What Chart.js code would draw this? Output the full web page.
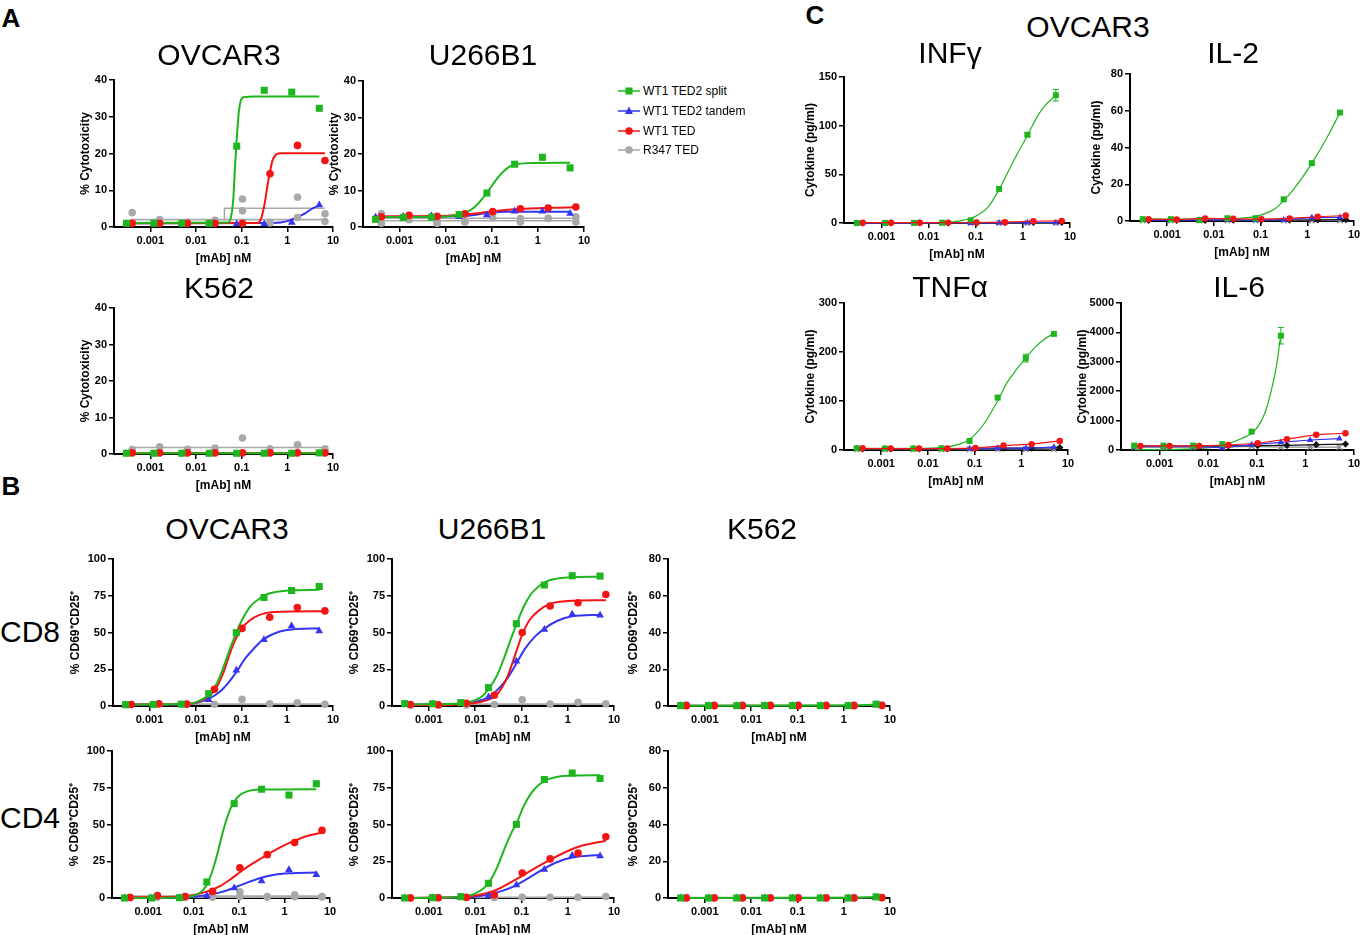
<!DOCTYPE html>
<html>
<head>
<meta charset="utf-8">
<script src="https://cdn.jsdelivr.net/npm/chart.js@4.4.1/dist/chart.umd.min.js"></script>
<style>
  body { margin: 0; background: #fff; }
  #fig { position: relative; width: 1360px; height: 935px; overflow: hidden;
         font-family: "Liberation Sans", Arial, Helvetica, sans-serif; color: #000; }
  .lbl { position: absolute; transform: translate(-50%, -50%); white-space: nowrap; line-height: 1; }
  .leg { position: absolute; left: 618px; font-size: 12px; display: flex; align-items: center; transform: translateY(-50%); }
  .leg svg { margin-right: 3px; }
</style>
</head>
<body>
<div id="fig"></div>
<script>
// concentrations (nM) of the two dilution series
const concSplit = [0.0003, 0.0012, 0.0049, 0.0195, 0.078, 0.3125, 1.25, 5];
const concTed = [0.0004, 0.0016, 0.0065, 0.026, 0.104, 0.417, 1.67, 6.67];
const xTicks = [0.001, 0.01, 0.1, 1, 10];
const seriesNames = ['WT1 TED2 split', 'WT1 TED2 tandem', 'WT1 TED', 'R347 TED'];

// ---- A: % cytotoxicity ----
const cytoOvSplit = [1, 1, 1, 1, 22, 37.2, 36.7, 32.3];
const cytoOvTandem = [0.9, 0.9, 0.9, 0.9, 0.8, 0.8, 1.2, 6];
const cytoOvTed = [1, 1, 1, 1, 1, 14.5, 22.2, 18.1];
const cytoOvR347a = [3.9, 2, 1.3, 1.8, 7.6, 1.3, 8.1, 3.6];
const cytoOvR347b = [1.2, 1.1, 1.1, 1.2, 4.4, 1.1, 2.6, 1.5];
const fitCytoOvSplit = [[0.0003, 1.1], [0.05, 1.2], [0.058, 2.5], [0.065, 7], [0.072, 17], [0.078, 24], [0.086, 31], [0.095, 34.3], [0.11, 35.3], [0.2, 35.5], [5, 35.5]];
const fitCytoOvTed = [[0.0004, 1], [0.22, 1.1], [0.27, 2.5], [0.32, 6.5], [0.37, 11.5], [0.417, 15], [0.47, 18], [0.55, 19.6], [0.7, 20.1], [6.67, 20.1]];
const fitCytoOvTandem = [[0.0003, 1], [0.5, 1.1], [1, 1.6], [1.6, 2.6], [2.5, 3.8], [3.5, 5], [5, 5.8]];
const fitCytoOvR347a = [[0.0004, 2], [0.042, 2], [0.042, 5.1], [6.67, 5.1]];
const fitCytoOvR347b = [[0.042, 2], [6.67, 2]];

const cytoUSplit = [2.1, 2.6, 2.7, 3.4, 9.3, 17.2, 19.1, 16.2];
const cytoUTandem = [2.7, 2.9, 3.0, 2.8, 3.3, 4.3, 4.3, 3.7];
const cytoUTed = [2.8, 3.2, 2.9, 3.6, 4.2, 5.0, 5.2, 5.5];
const cytoUR347a = [3.6, 2.2, 1.0, 1.5, 4.0, 2.3, 2.4, 2.8];
const cytoUR347b = [1.0, 2.0, 1.1, 1.4, 2.6, 1.4, 2.3, 1.4];
const fitCytoUSplit = [[0.0003, 2.7], [0.005, 2.8], [0.015, 3.1], [0.025, 3.7], [0.04, 5.2], [0.06, 7.5], [0.078, 9.4], [0.1, 11.3], [0.15, 14.2], [0.22, 16.2], [0.32, 17.1], [0.6, 17.5], [5, 17.6]];
const fitCytoUTandem = [[0.0003, 2.8], [0.01, 2.9], [0.03, 3.1], [0.06, 3.6], [0.1, 4.0], [0.2, 4.2], [5, 4.2]];
const fitCytoUTed = [[0.0004, 2.9], [0.005, 3.0], [0.02, 3.3], [0.06, 3.9], [0.15, 4.5], [0.5, 5.0], [2, 5.3], [6.67, 5.4]];
const fitCytoUR347a = [[0.0004, 2.4], [6.67, 2.4]];
const fitCytoUR347b = [[0.0004, 1.7], [6.67, 1.7]];

const cytoKSplit = [0.2, 0.2, 0.2, 0.2, 0.2, 0.2, 0.2, 0.3];
const cytoKTandem = [0.1, 0.1, 0.1, 0.1, 0.1, 0.1, 0.1, 0.1];
const cytoKTed = [0.3, 0.3, 0.3, 0.3, 0.3, 0.3, 0.3, 0.3];
const cytoKR347a = [1.2, 2.0, 1.3, 1.6, 4.4, 1.4, 2.5, 1.4];
const fitCytoKSplit = [[0.0003, 0.2], [5, 0.2]];
const fitCytoKTed = [[0.0004, 0.3], [6.67, 0.3]];
const fitCytoKR347 = [[0.0004, 1.8], [6.67, 1.8]];

// ---- B: % CD69+CD25+ ----
const cd8OvSplit = [0.9, 1.0, 1.2, 8.4, 49.9, 73.8, 78.6, 81.3];
const cd8OvTandem = [0.7, 0.8, 1.0, 4.3, 24.4, 45, 54.4, 51];
const cd8OvTed = [1.0, 1.5, 1.3, 11.4, 52.8, 60.4, 67, 64.7];
const cd8OvR347 = [1.0, 1.2, 1.0, 1.2, 4.5, 1.5, 2.2, 1.2];
const fitCd8OvSplit = [[0.0003, 1], [0.005, 1.3], [0.01, 2.5], [0.02, 8], [0.03, 16], [0.045, 30], [0.06, 41], [0.078, 50], [0.11, 60], [0.16, 68], [0.25, 73], [0.4, 76.5], [1, 78.5], [5, 79]];
const fitCd8OvTed = [[0.0004, 1], [0.006, 1.3], [0.012, 3], [0.026, 10.5], [0.04, 22], [0.06, 38], [0.08, 47], [0.104, 53], [0.15, 58], [0.25, 62], [0.5, 64], [6.67, 64.5]];
const fitCd8OvTandem = [[0.0003, 0.8], [0.005, 1], [0.01, 2], [0.02, 5], [0.035, 10], [0.05, 15], [0.078, 23], [0.12, 32], [0.2, 40], [0.31, 45.5], [0.6, 50], [1.25, 52], [5, 52.8]];
const fitCd8OvR347 = [[0.0004, 1.3], [6.67, 1.3]];

const cd8USplit = [1.6, 1.5, 2.3, 12.5, 56, 82.3, 88.6, 88.4];
const cd8UTandem = [1.0, 1.0, 1.5, 6.1, 30.5, 52, 62.5, 61.8];
const cd8UTed = [1.0, 0.8, 1.8, 7.3, 50, 68, 70.2, 75.9];
const cd8UR347 = [0.5, 0.5, 0.6, 1.0, 4.3, 1.3, 2.5, 1.5];
const fitCd8USplit = [[0.0003, 1.2], [0.004, 1.6], [0.008, 3], [0.014, 6.5], [0.0195, 11.5], [0.03, 21], [0.045, 35], [0.06, 46], [0.078, 55.5], [0.11, 67], [0.16, 76], [0.25, 82], [0.4, 85.5], [1, 87.5], [5, 88]];
const fitCd8UTed = [[0.0004, 0.6], [0.005, 1], [0.01, 2], [0.02, 4.5], [0.03, 8], [0.05, 20], [0.07, 33], [0.104, 48.5], [0.15, 58.5], [0.25, 65.5], [0.417, 69.5], [1, 71.5], [6.67, 72]];
const fitCd8UTandem = [[0.0003, 0.8], [0.005, 1.5], [0.01, 2.8], [0.0195, 6], [0.035, 13], [0.05, 19], [0.078, 29], [0.12, 39], [0.2, 47.5], [0.31, 52.5], [0.6, 58], [1.25, 61], [5, 62]];
const fitCd8UR347 = [[0.0004, 1.3], [6.67, 1.3]];

const cd8KSplit = [0.2, 0.2, 0.2, 0.2, 0.2, 0.2, 0.2, 1.0];
const cd8KTandem = [0.1, 0.1, 0.1, 0.1, 0.1, 0.1, 0.1, 0.5];
const cd8KTed = [0.2, 0.2, 0.2, 0.2, 0.2, 0.2, 0.2, 0.3];
const cd8KR347 = [0.5, 0.5, 0.5, 0.5, 0.5, 0.5, 0.5, 0.6];
const fitCd8KSplit = [[0.0003, 0.2], [1.25, 0.25], [5, 0.8]];
const fitCd8KR347 = [[0.0004, 0.5], [6.67, 0.5]];

const cd4OvSplit = [0, 0, 0.2, 10.9, 64.3, 74, 70, 77.7];
const cd4OvTandem = [0, 0, 0.1, 1.6, 6.8, 11.6, 19.3, 15.9];
const cd4OvTed = [0.3, 1.5, 1.0, 4.5, 20.5, 29.5, 37.7, 46];
const cd4OvR347a = [0.5, 1.8, 1.0, 0.8, 4.2, 1.0, 2.2, 1.0];
const cd4OvR347b = [0.3, 0.5, 0.4, 0.5, 1.0, 0.6, 0.8, 0.7];
const fitCd4OvSplit = [[0.0003, 0], [0.006, 0.3], [0.01, 1.5], [0.015, 4.5], [0.0195, 9], [0.025, 17], [0.032, 28], [0.04, 40], [0.05, 51], [0.065, 61], [0.078, 65.5], [0.1, 69.5], [0.15, 72.5], [0.3, 73.8], [5, 74]];
const fitCd4OvTed = [[0.0004, 0.5], [0.005, 1], [0.01, 2], [0.02, 4.5], [0.04, 8.5], [0.07, 13.5], [0.104, 17.5], [0.2, 23.5], [0.417, 29.5], [0.8, 34.5], [1.67, 39], [3, 42], [6.67, 44.5]];
const fitCd4OvTandem = [[0.0003, 0], [0.006, 0.3], [0.012, 1], [0.02, 2], [0.04, 4], [0.078, 7], [0.15, 10.5], [0.31, 13.8], [0.6, 15.8], [1.25, 16.8], [5, 17.3]];
const fitCd4OvR347a = [[0.0004, 1.3], [6.67, 1.3]];
const fitCd4OvR347b = [[0.0004, 0.6], [6.67, 0.6]];

const cd4USplit = [0, 0.2, 0.9, 10, 50.1, 80.6, 85, 81.3];
const cd4UTandem = [0, 0, 0.3, 1.6, 8.9, 19.4, 28.9, 28.5];
const cd4UTed = [0, 0.2, 0.5, 2, 17, 26.6, 30.5, 41.7];
const cd4UR347 = [0.2, 0.2, 0.2, 0.3, 0.5, 0.5, 0.5, 1.0];
const fitCd4USplit = [[0.0003, 0], [0.005, 0.6], [0.01, 3], [0.015, 6.5], [0.0195, 10], [0.03, 21], [0.045, 35], [0.06, 44], [0.078, 50.5], [0.11, 62], [0.16, 71], [0.25, 77.5], [0.4, 81], [1, 83.2], [5, 83.5]];
const fitCd4UTed = [[0.0004, 0], [0.006, 0.8], [0.012, 2], [0.026, 5], [0.05, 9.5], [0.104, 15], [0.2, 20.5], [0.417, 26], [1, 32], [2, 35.5], [6.67, 39]];
const fitCd4UTandem = [[0.0003, 0], [0.006, 0.5], [0.012, 1.2], [0.0195, 2.5], [0.04, 5], [0.078, 8.8], [0.15, 14], [0.31, 20], [0.6, 24.5], [1.25, 27.5], [5, 29.3]];
const fitCd4UR347 = [[0.0004, 0.3], [6.67, 0.6]];

const cd4KSplit = [0, 0, 0, 0, 0, 0, 0, 0.6];
const cd4KTandem = [0, 0, 0, 0, 0, 0, 0, 0.2];
const cd4KTed = [0, 0, 0, 0, 0, 0, 0, 0.2];
const cd4KR347 = [0.2, 0.2, 0.2, 0.2, 0.2, 0.2, 0.2, 0.3];
const fitCd4KSplit = [[0.0003, 0], [1.25, 0.1], [5, 0.5]];
const fitCd4KR347 = [[0.0004, 0.2], [6.67, 0.3]];

// ---- C: cytokines, OVCAR3 (pg/ml) ----
const infgSplit = [0, 0, 0, 0.3, 2.7, 35, 90.7, 131.3];
const infgSplitErr = [0, 0, 0, 0, 0, 0, 1.5, 6];
const infgTandem = [0, 0, 0, 0, 0, 0.2, 0.5, 0.5];
const infgTed = [0.3, 0.3, 0.3, 0.4, 0.5, 0.8, 1.8, 2.2];
const infgBlack = [0, 0, 0, 0, 0.1, 0.3, 0.5, 0.5];
const infgGray = [0, 0, 0, 0, 0, 0, 0, 0];
const fitInfgSplit = [[0.0003, 0.1], [0.01, 0.2], [0.025, 0.8], [0.05, 2.5], [0.1, 7], [0.18, 16], [0.31, 34], [0.5, 54], [0.8, 73], [1.25, 90], [2, 109], [3, 121], [5, 131]];

const il2Split = [1.0, 1.0, 0.5, 1.5, 1.5, 11.8, 31.5, 59];
const il2Tandem = [0.5, 0.5, 0.5, 0.6, 0.5, 0.7, 1.8, 2.0];
const il2Ted = [1.0, 0.8, 1.4, 1.2, 1.0, 1.4, 2.3, 3.0];
const il2Black = [0.3, 0.3, 0.3, 0.4, 0.4, 0.5, 0.6, 0.8];
const il2Gray = [0.3, 0.3, 0.3, 0.3, 0.3, 0.3, 0.3, 0.3];
const fitIl2Split = [[0.0003, 1], [0.02, 1.1], [0.05, 1.8], [0.1, 3.2], [0.2, 6.5], [0.31, 11], [0.5, 17], [0.8, 24], [1.25, 31.5], [2, 40], [3, 48], [5, 59]];

const tnfSplit = [3.5, 3, 3, 3.4, 18.4, 107, 187.5, 237];
const tnfSplitErr = [0, 0, 0, 0, 0, 0, 8, 0];
const tnfTandem = [3, 3, 3, 3, 3, 4, 4, 6];
const tnfTed = [3.5, 3, 3, 3, 4, 9, 12, 18.5];
const tnfBlack = [2, 2, 2, 2, 3, 4, 4, 5];
const tnfGray = [1.5, 1.5, 1.5, 1.5, 1.5, 2, 2, 2];
const fitTnfSplit = [[0.0003, 3], [0.005, 3.2], [0.0195, 5], [0.04, 10], [0.078, 22], [0.15, 50], [0.31, 100], [0.5, 138], [0.8, 165], [1.25, 188], [2, 210], [3, 225], [5, 238]];

const il6Split = [150, 150, 150, 200, 625, 3886, null, null];
const il6SplitErr = [0, 0, 0, 0, 0, 280, 0, 0];
const il6Tandem = [110, 110, 110, 80, 180, 260, 340, 390];
const il6Ted = [140, 140, 140, 170, 230, 370, 520, 570];
const il6Black = [130, 130, 130, 140, 150, 160, 180, 200];
const il6Gray = [100, 100, 100, 100, 120, 100, 100, 100];
const fitIl6Split = [[0.0003, 10], [0.005, 40], [0.0195, 160], [0.05, 400], [0.095, 700], [0.15, 1300], [0.19, 1900], [0.25, 2800], [0.31, 3900]];

// ---------- drawing ----------
const FONT = '"Liberation Sans", Arial, Helvetica, sans-serif';
Chart.defaults.font.family = FONT;
Chart.defaults.color = '#000';
const X_MIN = 0.00016, X_MAX = 10;

const STY = {
  split: { color: '#1fb51f', shape: 'rect', r: 5 },
  tandem: { color: '#3535f2', shape: 'triangle', r: 4.5 },
  ted: { color: '#f31414', shape: 'circle', r: 3.8 },
  r347: { color: '#a9a9a9', shape: 'circle', r: 3.8 },
  black: { color: '#111111', shape: 'rectRot', r: 3.6 },
  grayX: { color: '#8c8c8c', shape: 'crossRot', r: 3.8 }
};

const pts = (xs, ys) => xs.map((x, i) => ({ x, y: ys[i] })).filter(p => p.y !== null);
const crv = pairs => pairs.map(([x, y]) => ({ x, y }));

function pointSet(key, xs, ys, opt = {}) {
  const s = STY[key];
  const scale = opt.small ? 0.85 : 1;
  return {
    data: pts(xs, ys), showLine: !!opt.line, borderColor: s.color, borderWidth: 1.2,
    backgroundColor: s.color, pointStyle: s.shape, pointRadius: s.r * scale,
    pointBorderWidth: s.shape === 'crossRot' ? 1.6 : 0, pointBorderColor: s.color,
    clip: false, order: 0, errors: opt.errors
  };
}
function curveSet(key, pairs, width = 2, straight = false) {
  const s = STY[key];
  return {
    data: crv(pairs), borderColor: s.color, borderWidth: width, pointRadius: 0,
    cubicInterpolationMode: straight ? 'default' : 'monotone', tension: 0, clip: false, order: 1
  };
}

const errorBars = {
  id: 'errorBars',
  afterDatasetsDraw(chart) {
    const { ctx, scales } = chart;
    chart.data.datasets.forEach(ds => {
      if (!ds.errors) return;
      ctx.save();
      ctx.strokeStyle = ds.borderColor;
      ctx.lineWidth = 1;
      ds.data.forEach((p, j) => {
        const e = ds.errors[j];
        if (!e) return;
        const px = scales.x.getPixelForValue(p.x);
        const y1 = scales.y.getPixelForValue(p.y - e), y2 = scales.y.getPixelForValue(p.y + e);
        ctx.beginPath();
        ctx.moveTo(px, y1); ctx.lineTo(px, y2);
        ctx.moveTo(px - 3, y1); ctx.lineTo(px + 3, y1);
        ctx.moveTo(px - 3, y2); ctx.lineTo(px + 3, y2);
        ctx.stroke();
      });
      ctx.restore();
    });
  }
};

const fig = document.getElementById('fig');

function panel(box, yMax, yStep, yTitle, yW, datasets) {
  const padT = 10, padR = 14, xH = 39;
  const w = yW + box.R - box.L + padR, h = padT + box.B - box.T + xH;
  const cv = document.createElement('canvas');
  cv.width = w; cv.height = h;
  cv.style.cssText = `position:absolute;left:${box.L - yW}px;top:${box.T - padT}px;width:${w}px;height:${h}px`;
  fig.appendChild(cv);
  const axisGrid = { drawOnChartArea: false, tickLength: 5, color: '#000', lineWidth: 1.5 };
  const axisBorder = { color: '#000', width: 2 };
  const titleFont = { size: 12, weight: 'bold' };
  const tickFont = { size: 11, weight: 'bold' };
  new Chart(cv, {
    type: 'line',
    data: { datasets },
    options: {
      responsive: false, animation: false, events: [],
      layout: { padding: { top: padT, right: padR, left: 0, bottom: 0 } },
      plugins: { legend: { display: false }, tooltip: { enabled: false } },
      scales: {
        x: {
          type: 'logarithmic', min: X_MIN, max: X_MAX,
          afterBuildTicks: s => { s.ticks = xTicks.map(v => ({ value: v })); },
          afterFit: s => { s.height = xH; },
          ticks: { autoSkip: false, maxRotation: 0, padding: 2, font: tickFont, color: '#000', callback: v => String(v) },
          grid: axisGrid, border: axisBorder,
          title: { display: true, text: '[mAb] nM', font: titleFont, padding: 0, color: '#000' }
        },
        y: {
          min: 0, max: yMax,
          afterFit: s => { s.width = yW; },
          ticks: { stepSize: yStep, padding: 2, font: tickFont, color: '#000', callback: v => String(v) },
          grid: axisGrid, border: axisBorder,
          title: { display: true, text: yTitle, font: titleFont, padding: 0, color: '#000' }
        }
      }
    },
    plugins: [errorBars]
  });
}

function label(text, x, y, size, bold) {
  const d = document.createElement('div');
  d.className = 'lbl';
  d.style.left = x + 'px';
  d.style.top = y + 'px';
  d.style.fontSize = size + 'px';
  if (bold) d.style.fontWeight = 'bold';
  d.textContent = text;
  fig.appendChild(d);
}

// panel helper for the activation / cytotoxicity fits
function fitPanel(box, yMax, yStep, yTitle, yW, p) {
  const sets = [
    pointSet('split', concSplit, p.split),
    pointSet('ted', concTed, p.ted),
    pointSet('tandem', concSplit, p.tandem)
  ];
  p.r347.forEach(v => sets.push(pointSet('r347', concTed, v)));
  p.fits.forEach(([k, c, straight]) => sets.push(curveSet(k, c, k === 'r347' ? 1.6 : 2, straight)));
  panel(box, yMax, yStep, yTitle, yW, sets);
}

function cytokinePanel(box, yMax, yStep, p) {
  const sets = [
    pointSet('ted', concTed, p.ted, { line: true, small: true }),
    pointSet('split', concSplit, p.split, { small: true, errors: p.err }),
    pointSet('tandem', concSplit, p.tandem, { line: true, small: true }),
    pointSet('black', concTed, p.black, { line: true }),
    pointSet('grayX', concSplit, p.gray, { line: true }),
    curveSet('split', p.fit, 1.2)
  ];
  panel(box, yMax, yStep, 'Cytokine (pg/ml)', p.yW, sets);
}

const CYTO = '% Cytotoxicity';
const ACT = '% CD69\u207ACD25\u207A';

// A
fitPanel({ L: 114, R: 333, T: 80, B: 227 }, 40, 10, CYTO, 36, {
  split: cytoOvSplit, ted: cytoOvTed, tandem: cytoOvTandem, r347: [cytoOvR347a, cytoOvR347b],
  fits: [['split', fitCytoOvSplit], ['ted', fitCytoOvTed], ['tandem', fitCytoOvTandem],
         ['r347', fitCytoOvR347a, true], ['r347', fitCytoOvR347b, true]]
});
fitPanel({ L: 363, R: 584, T: 81, B: 227 }, 40, 10, CYTO, 36, {
  split: cytoUSplit, ted: cytoUTed, tandem: cytoUTandem, r347: [cytoUR347a, cytoUR347b],
  fits: [['split', fitCytoUSplit], ['ted', fitCytoUTed], ['tandem', fitCytoUTandem],
         ['r347', fitCytoUR347a, true], ['r347', fitCytoUR347b, true]]
});
fitPanel({ L: 114, R: 333, T: 308, B: 454 }, 40, 10, CYTO, 36, {
  split: cytoKSplit, ted: cytoKTed, tandem: cytoKTandem, r347: [cytoKR347a],
  fits: [['split', fitCytoKSplit, true], ['ted', fitCytoKTed, true], ['r347', fitCytoKR347, true]]
});

// B, CD8
fitPanel({ L: 113, R: 333, T: 559, B: 706 }, 100, 25, ACT, 45, {
  split: cd8OvSplit, ted: cd8OvTed, tandem: cd8OvTandem, r347: [cd8OvR347],
  fits: [['split', fitCd8OvSplit], ['ted', fitCd8OvTed], ['tandem', fitCd8OvTandem], ['r347', fitCd8OvR347, true]]
});
fitPanel({ L: 392, R: 614, T: 559, B: 706 }, 100, 25, ACT, 45, {
  split: cd8USplit, ted: cd8UTed, tandem: cd8UTandem, r347: [cd8UR347],
  fits: [['split', fitCd8USplit], ['ted', fitCd8UTed], ['tandem', fitCd8UTandem], ['r347', fitCd8UR347, true]]
});
fitPanel({ L: 668, R: 890, T: 559, B: 706 }, 80, 20, ACT, 42, {
  split: cd8KSplit, ted: cd8KTed, tandem: cd8KTandem, r347: [cd8KR347],
  fits: [['split', fitCd8KSplit], ['r347', fitCd8KR347, true]]
});

// B, CD4
fitPanel({ L: 112, R: 330, T: 751, B: 898 }, 100, 25, ACT, 45, {
  split: cd4OvSplit, ted: cd4OvTed, tandem: cd4OvTandem, r347: [cd4OvR347a, cd4OvR347b],
  fits: [['split', fitCd4OvSplit], ['ted', fitCd4OvTed], ['tandem', fitCd4OvTandem],
         ['r347', fitCd4OvR347a, true], ['r347', fitCd4OvR347b, true]]
});
fitPanel({ L: 392, R: 614, T: 751, B: 898 }, 100, 25, ACT, 45, {
  split: cd4USplit, ted: cd4UTed, tandem: cd4UTandem, r347: [cd4UR347],
  fits: [['split', fitCd4USplit], ['ted', fitCd4UTed], ['tandem', fitCd4UTandem], ['r347', fitCd4UR347, true]]
});
fitPanel({ L: 668, R: 890, T: 751, B: 898 }, 80, 20, ACT, 42, {
  split: cd4KSplit, ted: cd4KTed, tandem: cd4KTandem, r347: [cd4KR347],
  fits: [['split', fitCd4KSplit], ['r347', fitCd4KR347, true]]
});

// C
cytokinePanel({ L: 844, R: 1070, T: 77, B: 223 }, 150, 50, {
  split: infgSplit, err: infgSplitErr, tandem: infgTandem, ted: infgTed, black: infgBlack, gray: infgGray, fit: fitInfgSplit, yW: 41
});
cytokinePanel({ L: 1130, R: 1354, T: 74, B: 221 }, 80, 20, {
  split: il2Split, tandem: il2Tandem, ted: il2Ted, black: il2Black, gray: il2Gray, fit: fitIl2Split, yW: 41
});
cytokinePanel({ L: 844, R: 1068, T: 303, B: 450 }, 300, 100, {
  split: tnfSplit, err: tnfSplitErr, tandem: tnfTandem, ted: tnfTed, black: tnfBlack, gray: tnfGray, fit: fitTnfSplit, yW: 41
});
cytokinePanel({ L: 1121, R: 1354, T: 303, B: 450 }, 5000, 1000, {
  split: il6Split, err: il6SplitErr, tandem: il6Tandem, ted: il6Ted, black: il6Black, gray: il6Gray, fit: fitIl6Split, yW: 46
});

// text
label('A', 11, 18, 26, true);
label('B', 11, 486, 26, true);
label('C', 815, 15, 26, true);
label('OVCAR3', 219, 55, 30);
label('U266B1', 483, 55, 30);
label('K562', 219, 288, 30);
label('OVCAR3', 227, 529, 30);
label('U266B1', 492, 529, 30);
label('K562', 762, 529, 30);
label('CD8', 30, 632, 30);
label('CD4', 30, 818, 30);
label('OVCAR3', 1088, 27, 30);
label('INF\u03B3', 950, 53, 30);
label('IL-2', 1233, 53, 30);
label('TNF\u03B1', 950, 287, 30);
label('IL-6', 1239, 287, 30);

// legend
const legendKeys = ['split', 'tandem', 'ted', 'r347'];
const legendY = [91, 111, 131, 150];
legendKeys.forEach((k, i) => {
  const s = STY[k];
  const row = document.createElement('div');
  row.className = 'leg';
  row.style.top = legendY[i] + 'px';
  let mark;
  if (s.shape === 'rect') mark = `<rect x="7.5" y="2.5" width="7" height="7" fill="${s.color}"/>`;
  else if (s.shape === 'triangle') mark = `<polygon points="11,1.5 15,9 7,9" fill="${s.color}"/>`;
  else mark = `<circle cx="11" cy="6" r="3.8" fill="${s.color}"/>`;
  row.innerHTML = `<svg width="22" height="12"><line x1="0" y1="6" x2="22" y2="6" stroke="${s.color}" stroke-width="1.5"/>${mark}</svg><span>${seriesNames[i]}</span>`;
  fig.appendChild(row);
});
</script>
</body>
</html>
